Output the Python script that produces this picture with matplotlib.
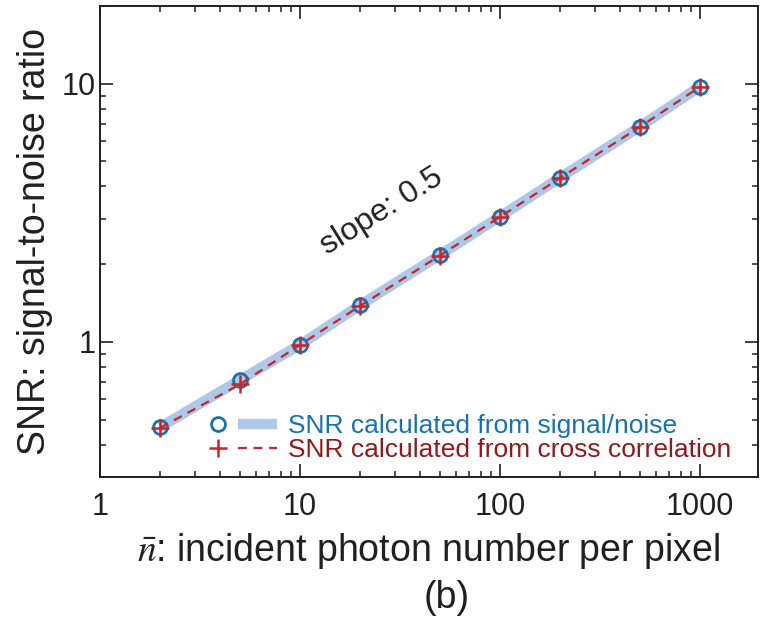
import matplotlib
matplotlib.use("Agg")
import matplotlib.pyplot as plt
from matplotlib.lines import Line2D
from matplotlib.legend_handler import HandlerTuple
from matplotlib.ticker import LogLocator, NullFormatter, FixedLocator, FixedFormatter

plt.rcParams['font.family'] = ['Liberation Sans', 'DejaVu Sans']
plt.rcParams['mathtext.fontset'] = 'stix'

# data
n_photons = [2, 5, 10, 20, 50, 100, 200, 500, 1000]
snr_signal_noise = [0.468, 0.712, 0.975, 1.39, 2.17, 3.06, 4.33, 6.82, 9.75]
snr_cross_corr = [0.465, 0.685, 0.975, 1.38, 2.16, 3.05, 4.32, 6.80, 9.73]
x_ticks = [1, 10, 100, 1000]
x_ticklabels = ['1', '10', '100', '1000']
y_ticks = [1, 10]
y_ticklabels = ['1', '10']

blue_dark = '#1a72ad'
blue_light = '#afc8e8'
red = '#c1272d'
red_text = '#8e1b1e'
txt = '#231f20'

fig = plt.figure(figsize=(7.69, 6.2), dpi=100)
ax = fig.add_axes([100/769, (620-477)/620, (758-100)/769, (477-6)/620])
ax.set_xscale('log')
ax.set_yscale('log')

ax.plot(n_photons, snr_signal_noise, color=blue_light, lw=7.5, solid_capstyle='butt', zorder=1)
ax.plot(n_photons, snr_signal_noise, ls='none', marker='o', ms=10, mfc='none',
        mec=blue_dark, mew=2.0, zorder=2)
ax.plot(n_photons, snr_cross_corr, color=red, lw=1.6, ls=(0, (4, 3)), zorder=3)
ax.plot(n_photons, snr_cross_corr, ls='none', marker='+', ms=13, mec=red, mew=1.8, zorder=4)

ax.set_xlim(1, 1950)
ax.set_ylim(0.3, 20)

ax.xaxis.set_major_locator(FixedLocator(x_ticks))
ax.xaxis.set_major_formatter(FixedFormatter(x_ticklabels))
ax.yaxis.set_major_locator(FixedLocator(y_ticks))
ax.yaxis.set_major_formatter(FixedFormatter(y_ticklabels))
ax.xaxis.set_minor_locator(LogLocator(base=10, subs=range(2, 10)))
ax.yaxis.set_minor_locator(LogLocator(base=10, subs=range(2, 10)))
ax.xaxis.set_minor_formatter(NullFormatter())
ax.yaxis.set_minor_formatter(NullFormatter())

ax.tick_params(which='both', direction='in', top=True, right=True, color=txt,
               labelcolor=txt, labelsize=22)
ax.tick_params(which='major', length=9.5, width=1.2)
ax.tick_params(which='minor', length=4.5, width=1.1)
ax.tick_params(axis='x', which='major', pad=11)
ax.tick_params(axis='y', which='major', pad=3)
for s in ax.spines.values():
    s.set_linewidth(1.4)
    s.set_color(txt)

ax.set_ylabel('SNR: signal-to-noise ratio', fontsize=27, color=txt, labelpad=6)
ax.set_xlabel(r'$\bar{n}$: incident photon number per pixel', fontsize=27, color=txt, labelpad=6)
fig.text(447/769, 1 - 598/620, '(b)', fontsize=27, color=txt, ha='center', va='center')

fig.text(382/769, 1 - 212/620, 'slope: 0.5', fontsize=23, color=txt, rotation=32,
         ha='center', va='center', rotation_mode='anchor')

h1 = (Line2D([], [], ls='none', marker='o', ms=10, mfc='none', mec=blue_dark, mew=2.0),
      Line2D([], [], color=blue_light, lw=7.5, solid_capstyle='butt'))
h2 = (Line2D([], [], ls='none', marker='+', ms=13, mec=red, mew=1.8),
      Line2D([], [], color=red, lw=1.6, ls=(0, (4, 3))))
leg = ax.legend([h1, h2], ['SNR calculated from signal/noise', 'SNR calculated from cross correlation'],
                handler_map={tuple: HandlerTuple(ndivide=2, pad=0)},
                loc='lower left', bbox_to_anchor=((198-100)/658, (477-462)/471),
                bbox_transform=ax.transAxes, frameon=False, fontsize=19,
                handlelength=3.0, handletextpad=0.4, labelspacing=0.0,
                borderpad=0, borderaxespad=0)
for t, c in zip(leg.get_texts(), [blue_dark, red_text]):
    t.set_color(c)

fig.savefig('out.png', dpi=100)
